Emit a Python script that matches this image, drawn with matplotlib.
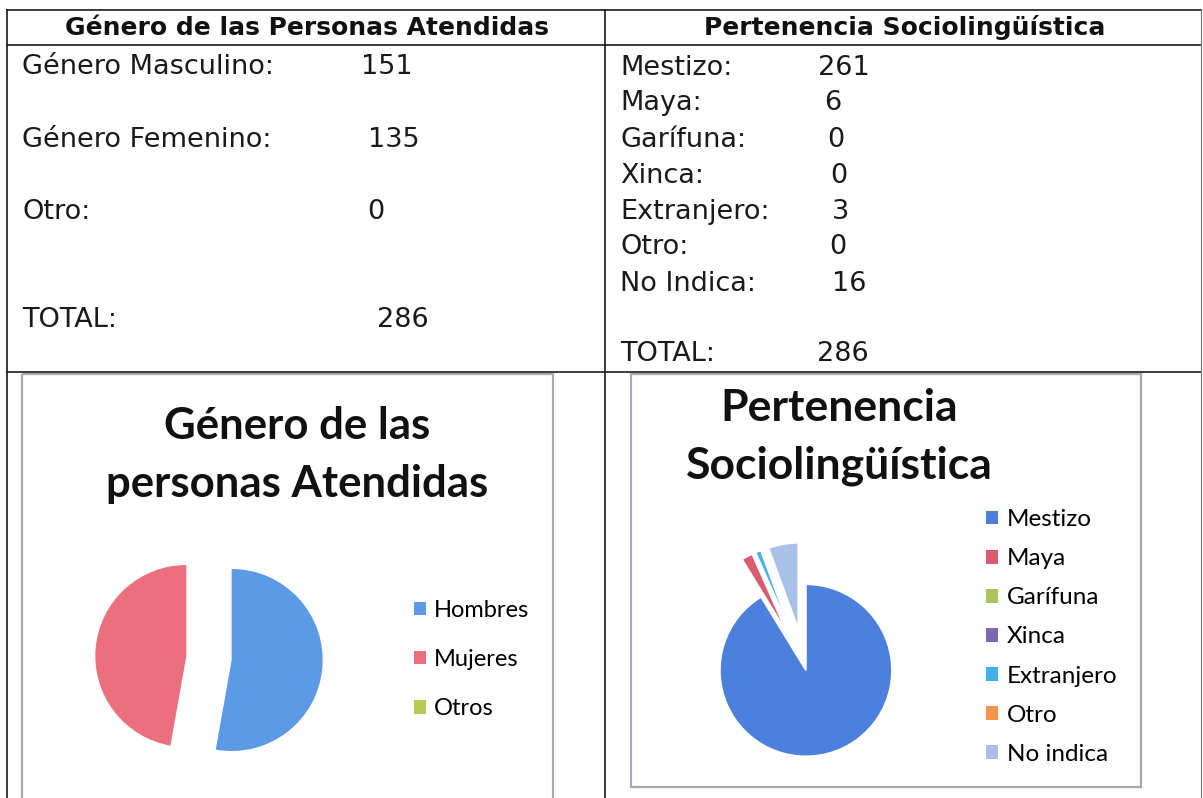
import matplotlib
matplotlib.use("Agg")
import matplotlib.pyplot as plt
from matplotlib.patches import Patch, Rectangle

W, H = 1203, 798

# datos del reporte
genero_filas = ["Género Masculino:", "Género Femenino:", "Otro:"]
genero_labels = ["Hombres", "Mujeres", "Otros"]
genero_values = [151, 135, 0]
genero_colors = ["#5d9ae6", "#ec6f7d", "#b5cd57"]

etnia_filas = ["Mestizo:", "Maya:", "Garífuna:", "Xinca:", "Extranjero:", "Otro:", "No Indica:"]
etnia_labels = ["Mestizo", "Maya", "Garífuna", "Xinca", "Extranjero", "Otro", "No indica"]
etnia_values = [261, 6, 0, 0, 3, 0, 16]
etnia_colors = ["#4d80dc", "#dc5a6d", "#a9c65c", "#7d6aae", "#46b0ec", "#f7944a", "#a9c0e9"]

BODY_FONT = "DejaVu Sans"
CHART_FONT = "Lato"
BODY_SIZE = 19.5


def px_axes(fig, cx, cy, half):
    # axes square centred on pixel (cx, cy), top-left origin
    return fig.add_axes([(cx - half) / W, (H - cy - half) / H, 2 * half / W, 2 * half / H])


fig = plt.figure(figsize=(W / 100, H / 100), dpi=100)
bg = fig.add_axes([0, 0, 1, 1])
bg.set_xlim(0, W)
bg.set_ylim(H, 0)
bg.axis("off")

# table grid
line = dict(color="#1a1a1a", lw=1.2)
bg.plot([7, 1201], [10, 10], **line)
bg.plot([7, 1201], [45, 45], **line)
bg.plot([7, 1201], [372, 372], **line)
bg.plot([7, 7], [10, H], **line)
bg.plot([605, 605], [10, H], **line)
bg.plot([1201, 1201], [10, H], color="#777777", lw=0.8)

# chart frames
bg.add_patch(Rectangle((22, 374), 531, 440, fill=False, ec="#a8a8b0", lw=1.6))
bg.add_patch(Rectangle((631, 374), 510, 413, fill=False, ec="#a8a8b0", lw=1.6))

# headers
bg.text(307, 28, "Género de las Personas Atendidas", ha="center", va="center",
        fontsize=18, fontweight="bold", family=BODY_FONT, color="#111111")
bg.text(905, 28, "Pertenencia Sociolingüística", ha="center", va="center",
        fontsize=18, fontweight="bold", family=BODY_FONT, color="#111111")

# left table body
g_rows_y = [67, 140, 212]
g_vals_x = [387, 394, 376]
for name, val, y, vx in zip(genero_filas, genero_values, g_rows_y, g_vals_x):
    bg.text(22, y, name, va="center", fontsize=BODY_SIZE, family=BODY_FONT, color="#1a1a1a")
    bg.text(vx, y, str(val), ha="center", va="center", fontsize=BODY_SIZE, family=BODY_FONT,
            color="#1a1a1a")
bg.text(22, 320, "TOTAL:", va="center", fontsize=BODY_SIZE, family=BODY_FONT, color="#1a1a1a")
bg.text(403, 320, str(sum(genero_values)), ha="center", va="center", fontsize=BODY_SIZE,
        family=BODY_FONT, color="#1a1a1a")

# right table body
e_rows_y = [68, 103, 140, 176, 212, 247, 284]
e_vals_x = [844, 833, 836, 839, 840, 838, 849]
for name, val, y, vx in zip(etnia_filas, etnia_values, e_rows_y, e_vals_x):
    bg.text(620, y, name, va="center", fontsize=BODY_SIZE, family=BODY_FONT, color="#1a1a1a")
    bg.text(vx, y, str(val), ha="center", va="center", fontsize=BODY_SIZE, family=BODY_FONT,
            color="#1a1a1a")
bg.text(620, 354, "TOTAL:", va="center", fontsize=BODY_SIZE, family=BODY_FONT, color="#1a1a1a")
bg.text(843, 354, str(sum(etnia_values)), ha="center", va="center", fontsize=BODY_SIZE,
        family=BODY_FONT, color="#1a1a1a")

# chart titles
bg.text(297, 455, "Género de las\npersonas Atendidas", ha="center", va="center",
        fontsize=31.5, fontweight="bold", family=CHART_FONT, color="#111111", linespacing=1.55)
bg.text(839, 437, "Pertenencia\nSociolingüística", ha="center", va="center",
        fontsize=32, fontweight="bold", family=CHART_FONT, color="#111111", linespacing=1.52)

# left pie
R1 = 91
ax1 = px_axes(fig, 209, 658, 1.6 * R1)
ax1.pie(genero_values, colors=genero_colors, startangle=90, counterclock=False,
        explode=[0.25, 0.25, 0.25], wedgeprops=dict(linewidth=0))
ax1.set_xlim(-1.6, 1.6)
ax1.set_ylim(-1.6, 1.6)

# right pie
R2 = 86
ax2 = px_axes(fig, 805, 667, 1.6 * R2)
ax2.pie(etnia_values, colors=etnia_colors, startangle=90, counterclock=False,
        explode=[0.04, 0.45, 0.45, 0.45, 0.45, 0.45, 0.45],
        wedgeprops=dict(linewidth=1.2, edgecolor="white"))
ax2.set_xlim(-1.6, 1.6)
ax2.set_ylim(-1.6, 1.6)

# legends
h1 = [Patch(facecolor=c, label=l) for c, l in zip(genero_colors, genero_labels)]
leg1 = bg.legend(handles=h1, loc="upper left", bbox_to_anchor=(402 / W, 1 - 588 / H),
                 bbox_transform=fig.transFigure, frameon=False, handlelength=0.5,
                 handleheight=0.5, handletextpad=0.35, labelspacing=1.2, borderpad=0,
                 prop=dict(family=CHART_FONT, size=17))
bg.add_artist(leg1)

h2 = [Patch(facecolor=c, label=l) for c, l in zip(etnia_colors, etnia_labels)]
bg.legend(handles=h2, loc="upper left", bbox_to_anchor=(974 / W, 1 - 497 / H),
          bbox_transform=fig.transFigure, frameon=False, handlelength=0.5, handleheight=0.5,
          handletextpad=0.35, labelspacing=0.745, borderpad=0,
          prop=dict(family=CHART_FONT, size=17.5))

fig.savefig("out.png", dpi=100)
